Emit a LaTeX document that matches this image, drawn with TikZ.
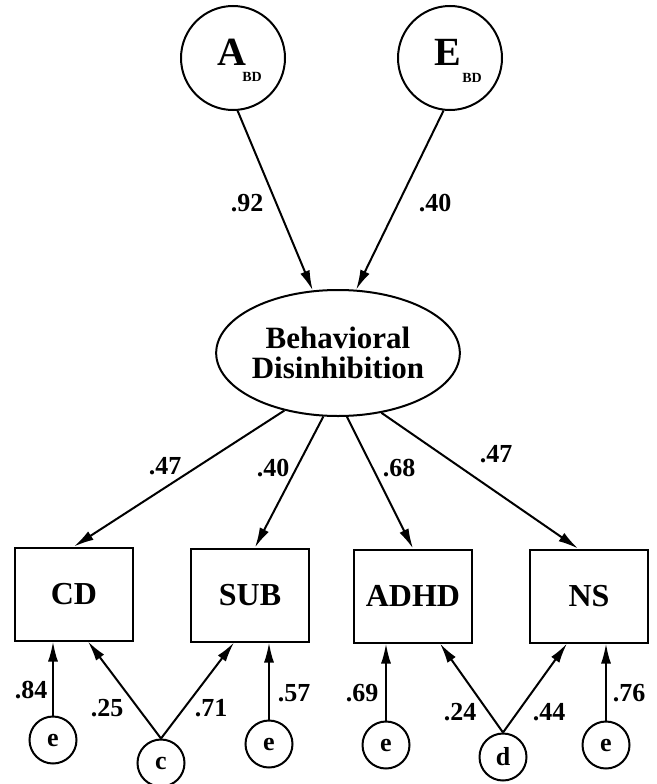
\documentclass[tikz,border=0pt]{standalone}
\usepackage{fontspec}
\setmainfont{Liberation Serif}
\usetikzlibrary{arrows.meta,shapes.geometric,calc}
\begin{document}
\begin{tikzpicture}[x=1pt,y=-1pt,
  lat/.style={circle,draw,line width=2pt,minimum size=104pt,inner sep=0pt},
  obs/.style={rectangle,draw,line width=2pt,minimum width=118pt,minimum height=93pt,inner sep=0pt,font=\fontsize{32}{32}\selectfont\bfseries},
  err/.style={circle,draw,line width=2pt,minimum size=47pt,inner sep=0pt,font=\fontsize{26}{26}\selectfont\bfseries},
  coef/.style={inner sep=0pt,font=\fontsize{26}{26}\selectfont\bfseries},
  big/.style={inner sep=0pt,font=\fontsize{40}{40}\selectfont\bfseries},
  sub/.style={inner sep=0pt,font=\fontsize{14}{14}\selectfont\bfseries},
  arr/.style={line width=2pt,-{Latex[length=20pt,width=10pt]}}]
\useasboundingbox (0,0) rectangle (656,784);
% latent factors
\node[lat] (A) at (233,58) {};
\node[big] (Atxt) at (232,52) {A};
\node[sub] (Abd) at (252,77) {BD};
\node[lat] (E) at (450,58) {};
\node[big] (Etxt) at (448,52) {E};
\node[sub] (Ebd) at (472,78) {BD};
\node[ellipse,draw,line width=2pt,minimum width=192pt,minimum height=126pt,inner sep=0pt,align=center,
  font=\fontsize{31}{30}\selectfont\bfseries] (BD) at (338,353) {Behavioral\\Disinhibition};
% observed
\node[obs] (CD) at (74,594) {CD};
\node[obs] (SUB) at (250,595) {SUB};
\node[obs] (ADHD) at (413,596) {ADHD};
\node[obs] (NS) at (589,596) {NS};
% errors
\node[err] (e1) at (53,740) {e};
\node[err] (c) at (161,763) {c};
\node[err] (e2) at (269,744) {e};
\node[err] (e3) at (386,745) {e};
\node[err] (d) at (503,757) {d};
\node[err] (e4) at (606,745) {e};
% paths
\draw[arr] (A.-85) -- (BD.112);
\draw[arr] (E.-97) -- (BD.74);
\draw[arr] (BD.-133) -- (CD.north);
\draw[arr] (BD.-103) -- ([xshift=5pt]SUB.north);
\draw[arr] (BD.-82) -- (ADHD.north);
\draw[arr] (BD.-54) -- ([xshift=-11pt]NS.north);
\draw[arr] (e1.north) -- (e1.north |- CD.south);
\draw[arr] (e2.north) -- (e2.north |- SUB.south);
\draw[arr] (e3.north) -- (e3.north |- ADHD.south);
\draw[arr] (e4.north) -- (e4.north |- NS.south);
\draw[arr] (c.north) -- ([xshift=14pt]CD.south);
\draw[arr] (c.north) -- ([xshift=-16pt]SUB.south);
\draw[arr] (d.north) -- ([xshift=27pt]ADHD.south);
\draw[arr] (d.north) -- ([xshift=-22pt]NS.south);
% coefficients
\node[coef] (lA) at (247,203) {.92};
\node[coef] (lE) at (435,203) {.40};
\node[coef] (lCD) at (165,466) {.47};
\node[coef] (lSUB) at (273,468) {.40};
\node[coef] (lADHD) at (399,468) {.68};
\node[coef] (lNS) at (496,454) {.47};
\node[coef] (l1) at (31,690) {.84};
\node[coef] (l2) at (107,708) {.25};
\node[coef] (l3) at (211,708) {.71};
\node[coef] (l4) at (294,693) {.57};
\node[coef] (l5) at (362,693) {.69};
\node[coef] (l6) at (460,712) {.24};
\node[coef] (l7) at (549,712) {.44};
\node[coef] (l8) at (629,693) {.76};
\end{tikzpicture}
\end{document}
